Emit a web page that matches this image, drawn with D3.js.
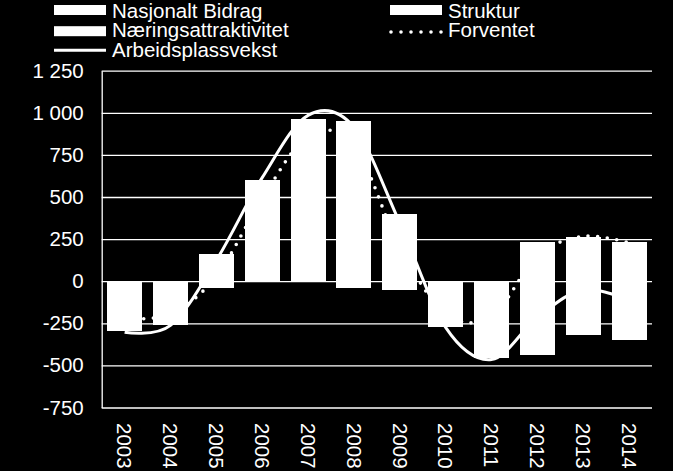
<!DOCTYPE html>
<html>
<head>
<meta charset="utf-8">
<script src="https://cdn.jsdelivr.net/npm/d3@7"></script>
<style>
  html, body { margin: 0; padding: 0; background: #000; }
  svg { display: block; }
  text { font-family: "Liberation Sans", Arial, sans-serif; fill: #fff; }
</style>
</head>
<body>
<svg id="chart" width="673" height="471"></svg>
<script>
// ---- data ----
const years = ["2003","2004","2005","2006","2007","2008","2009","2010","2011","2012","2013","2014"];
const nasjonaltBidrag   = [-120, -110,  99, 400, 620, 859, 254, -130, -150,  234,  250,  210];
const struktur          = [-100,  -80, -39,  90, 240, -39, -54,  -50,  -50, -104,   14,   20];
const naeringsattrakt   = [ -77,  -72,  64, 112, 101,  92, 146,  -94, -259, -336, -317, -351];
const forventet         = [-220, -195,  30, 490, 860, 810, 200, -190, -210,  150,  266,  228];
const arbeidsplassvekst = [-303, -262, 124, 615, 985, 915, 346, -274, -465, -215,  -50, -115];
const yTicks = [-750, -500, -250, 0, 250, 500, 750, 1000, 1250];
const legendLabels = ["Nasjonalt Bidrag", "Struktur", "Næringsattraktivitet", "Forventet", "Arbeidsplassvekst"];

// ---- layout ----
const FS = "20.5px";
const svg = d3.select("#chart");
const mLeft = 101.7, mRight = 652, mTop = 70.7, mBottom = 407.5;

const x = d3.scaleBand().domain(years).range([mLeft, mRight]).paddingInner(0.237).paddingOuter(0.118);
const xc = d3.scaleBand().domain(years).range([mLeft, mRight]);
const y = d3.scaleLinear().domain([-750, 1250]).range([mBottom, mTop]);

const loc = d3.formatLocale({decimal: ",", thousands: "\u00a0", grouping: [3], currency: ["", ""], minus: "-"});
const fmt = loc.format(",d");

// gridlines + y axis
const yAxis = svg.append("g")
  .attr("transform", `translate(${mLeft},0)`)
  .call(d3.axisLeft(y).tickValues(yTicks).tickSize(-(mRight - mLeft)).tickSizeOuter(0).tickPadding(18).tickFormat(fmt));
yAxis.selectAll(".tick line").attr("stroke", "#fff").attr("stroke-width", 1.3);
yAxis.select(".domain").attr("stroke", "#fff").attr("stroke-width", 1.3);
yAxis.selectAll(".tick text").attr("fill", "#fff").style("font-size", FS)
  .style("font-family", "'Liberation Sans', Arial, sans-serif");

// stacked bars
const table = years.map((yr, i) => ({year: yr, nas: nasjonaltBidrag[i], str: struktur[i], nae: naeringsattrakt[i]}));
const stack = d3.stack().keys(["nas", "str", "nae"]).offset(d3.stackOffsetDiverging);
const series = stack(table);
svg.append("g").selectAll("g").data(series).join("g")
  .selectAll("rect").data(d => d).join("rect")
  .attr("x", d => x(d.data.year))
  .attr("width", x.bandwidth())
  .attr("y", d => y(Math.max(d[0], d[1])))
  .attr("height", d => Math.abs(y(d[0]) - y(d[1])))
  .attr("fill", "#fff")
  .attr("shape-rendering", "crispEdges");

// lines
const cx = i => xc(years[i]) + xc.bandwidth() / 2;
const lineGen = d3.line().x((d, i) => cx(i)).y(d => y(d)).curve(d3.curveCatmullRom.alpha(0));

svg.append("path").datum(forventet)
  .attr("d", lineGen)
  .attr("fill", "none").attr("stroke", "#fff").attr("stroke-width", 3.6)
  .attr("stroke-linecap", "round").attr("stroke-dasharray", "0 9.6");

svg.append("path").datum(arbeidsplassvekst)
  .attr("d", lineGen)
  .attr("fill", "none").attr("stroke", "#fff").attr("stroke-width", 3);

// x labels
svg.append("g").selectAll("text").data(years).join("text")
  .attr("transform", d => `translate(${xc(d) + xc.bandwidth() / 2},${423}) rotate(90)`)
  .attr("dy", "0.35em")
  .attr("text-anchor", "start")
  .style("font-size", FS)
  .text(d => d);

// legend
const lg = svg.append("g");
const items = [
  {label: legendLabels[0], type: "rect", x: 54, base: 17.6, mid: 10},
  {label: legendLabels[1], type: "rect", x: 390, base: 17.6, mid: 10},
  {label: legendLabels[2], type: "rect", x: 54, base: 37.2, mid: 31.2},
  {label: legendLabels[3], type: "dot",  x: 390, base: 37.2, mid: 32},
  {label: legendLabels[4], type: "line", x: 54, base: 57, mid: 50.3}
];
items.forEach(it => {
  const mid = it.mid;
  if (it.type === "rect") {
    lg.append("rect").attr("x", it.x).attr("y", mid - 5).attr("width", 52).attr("height", 10).attr("fill", "#fff");
  } else if (it.type === "line") {
    lg.append("line").attr("x1", it.x).attr("x2", it.x + 52).attr("y1", mid).attr("y2", mid)
      .attr("stroke", "#fff").attr("stroke-width", 3);
  } else {
    lg.append("line").attr("x1", it.x + 1).attr("x2", it.x + 52).attr("y1", mid).attr("y2", mid)
      .attr("stroke", "#fff").attr("stroke-width", 3.6).attr("stroke-linecap", "round").attr("stroke-dasharray", "0 10");
  }
  lg.append("text").attr("x", it.x + 58).attr("y", it.base).style("font-size", FS).text(it.label);
});
</script>
</body>
</html>
